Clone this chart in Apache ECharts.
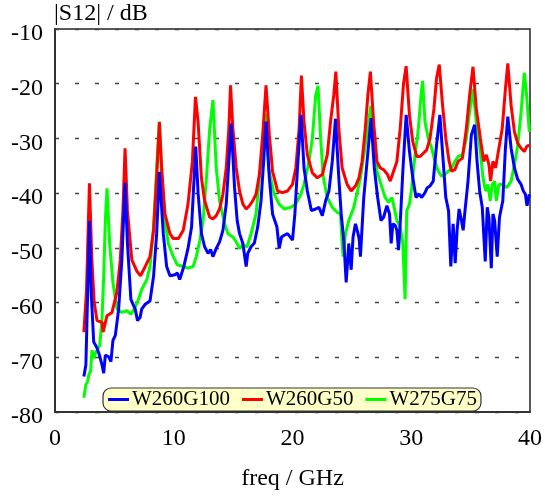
<!DOCTYPE html>
<html>
<head>
<meta charset="utf-8">
<script src="https://cdn.jsdelivr.net/npm/echarts@6/dist/echarts.min.js"></script>
<style>html,body{margin:0;padding:0;background:#fff}#c{width:545px;height:496px}</style>
</head>
<body>
<div id="c"></div>
<script>
const seriesNames = ['W260G100', 'W260G50', 'W275G75'];
const xTicks = [0, 10, 20, 30, 40];
const yTicks = [-80, -70, -60, -50, -40, -30, -20, -10];

const blueFreq = [2.43,2.6,2.9,3.05,3.26,3.5,3.7,3.96,4.1,4.24,4.52,4.71,4.88,5.08,5.36,5.63,5.9,6.1,6.39,6.75,6.95,7.17,7.3,7.6,8.0,8.3,8.56,8.79,9.12,9.4,9.68,10.1,10.3,10.5,10.85,11.2,11.5,11.85,12.05,12.33,12.6,12.89,13.1,13.3,13.58,13.86,14.14,14.42,14.64,14.84,15.12,15.34,15.54,15.82,16.1,16.23,16.51,16.79,17.07,17.35,17.57,17.77,18.05,18.32,18.69,18.88,19.08,19.3,19.58,19.8,20.0,20.2,20.42,20.72,20.97,21.25,21.59,21.95,22.23,22.51,22.79,23.07,23.35,23.62,23.9,24.1,24.32,24.52,24.74,24.94,25.1,25.3,25.52,25.62,25.72,25.86,26.0,26.28,26.61,26.89,27.17,27.45,27.67,27.95,28.17,28.31,28.45,28.65,28.79,28.93,29.07,29.29,29.57,29.85,30.13,30.4,30.68,30.88,31.16,31.35,31.58,31.85,32.13,32.41,32.69,32.91,33.14,33.33,33.53,33.7,33.86,34.03,34.23,34.37,34.5,34.78,35.06,35.34,35.54,35.76,35.98,36.23,36.4,36.54,36.74,36.88,37.02,37.24,37.43,37.71,37.93,38.13,38.41,38.69,38.97,39.25,39.44,39.61,39.75,39.94];
const blueDb = [-73.5,-71.4,-45.1,-58.2,-67.2,-68.1,-69.3,-71.4,-72.9,-69.6,-69.9,-70.8,-66.9,-66.0,-61.2,-52.2,-38.1,-49.2,-59.4,-61.2,-63.3,-62.7,-61.2,-60.3,-59.7,-55.2,-47.4,-36.1,-47.4,-53.4,-55.1,-54.9,-54.6,-55.8,-53.4,-50.1,-46.2,-31.5,-40.0,-47.4,-49.8,-51.0,-50.3,-51.6,-50.1,-48.9,-46.8,-42.0,-34.2,-27.3,-39.0,-45.0,-47.4,-49.2,-53.4,-51.0,-49.8,-49.1,-46.2,-41.4,-34.2,-26.9,-37.2,-43.8,-46.2,-50.1,-48.0,-47.7,-47.4,-48.0,-48.6,-43.8,-35.4,-25.7,-35.4,-39.6,-43.2,-42.9,-42.6,-44.1,-41.4,-39.6,-34.2,-26.4,-37.2,-43.8,-48.6,-56.3,-49.2,-54.0,-48.0,-45.6,-47.4,-48.5,-51.6,-46.2,-40.8,-34.2,-26.3,-35.4,-40.8,-45.0,-44.4,-42.3,-43.8,-49.2,-45.6,-45.9,-46.8,-50.4,-45.6,-36.0,-25.7,-32.4,-37.2,-40.8,-40.2,-40.8,-39.9,-39.0,-38.7,-37.8,-31.2,-25.7,-34.2,-40.8,-43.2,-53.4,-45.6,-52.8,-46.8,-42.9,-45.0,-46.8,-43.8,-37.8,-29.4,-27.5,-34.2,-39.6,-42.6,-52.5,-42.6,-44.4,-53.7,-43.8,-45.0,-51.6,-44.4,-41.4,-31.8,-26.0,-31.8,-35.4,-37.5,-38.4,-39.6,-40.2,-42.3,-40.2];

const redFreq = [2.43,2.65,2.9,3.1,3.3,3.54,3.96,4.05,4.38,4.8,5.2,5.5,5.72,5.9,6.1,6.47,6.9,7.2,7.6,8.0,8.3,8.56,8.79,8.98,9.26,9.68,9.96,10.4,10.8,11.2,11.57,11.83,12.05,12.33,12.6,13.03,13.3,13.58,13.86,14.14,14.42,14.64,14.78,14.98,15.26,15.54,15.82,16.1,16.37,16.65,16.93,17.21,17.49,17.77,18.05,18.32,18.74,19.16,19.58,20.0,20.28,20.56,20.75,20.97,21.25,21.67,22.09,22.51,22.93,23.2,23.48,23.65,23.9,24.18,24.6,24.94,25.3,25.6,25.86,26.13,26.35,26.56,26.83,27.11,27.39,27.67,28.0,28.23,28.51,28.79,29.07,29.35,29.57,29.85,30.13,30.46,30.74,31.02,31.3,31.58,31.91,32.13,32.36,32.64,32.91,33.19,33.39,33.67,33.95,34.31,34.64,34.92,35.2,35.48,35.82,36.1,36.32,36.54,36.68,36.88,37.1,37.38,37.66,37.93,38.13,38.41,38.69,38.97,39.25,39.52,39.72,39.94];
const redDb = [-65.4,-58.0,-38.2,-52.0,-60.0,-63.3,-63.6,-65.4,-62.4,-61.8,-58.2,-52.2,-43.2,-31.8,-43.2,-52.2,-54.3,-55.1,-53.4,-51.6,-46.8,-37.2,-27.0,-35.4,-43.8,-47.4,-48.3,-48.3,-46.8,-42.0,-34.2,-22.4,-27.0,-37.2,-41.4,-44.4,-44.7,-44.1,-42.9,-40.2,-35.4,-28.2,-20.3,-28.2,-35.4,-39.6,-42.0,-42.9,-42.3,-41.4,-40.2,-36.6,-29.4,-20.3,-29.4,-36.0,-39.6,-39.9,-39.6,-38.4,-35.4,-28.2,-18.5,-27.0,-33.0,-36.3,-37.2,-36.6,-33.0,-27.0,-22.0,-17.8,-28.2,-35.4,-38.4,-39.6,-38.7,-37.2,-34.2,-28.2,-22.0,-17.8,-27.0,-34.2,-35.4,-35.7,-36.6,-37.8,-36.0,-34.2,-28.2,-20.0,-16.8,-25.8,-30.6,-33.3,-33.3,-32.7,-32.1,-30.0,-24.6,-19.0,-16.5,-24.0,-30.0,-34.2,-36.0,-35.7,-34.2,-33.6,-28.2,-22.0,-16.9,-24.6,-30.0,-34.2,-33.0,-34.8,-37.8,-34.2,-35.4,-31.8,-28.2,-21.0,-16.3,-24.0,-28.8,-30.9,-31.8,-32.4,-31.5,-31.2];

const greenFreq = [2.43,2.6,2.75,2.85,3.0,3.12,3.26,3.4,3.54,3.77,3.96,4.1,4.24,4.38,4.6,4.88,5.22,5.63,6.05,6.39,6.75,7.03,7.3,7.73,8.0,8.3,8.56,8.79,8.98,9.26,9.54,9.96,10.3,10.8,11.2,11.63,11.9,12.2,12.47,12.75,13.03,13.3,13.58,13.86,14.28,14.56,14.98,15.26,15.54,15.82,16.18,16.51,16.93,17.21,17.5,17.72,17.98,18.46,18.88,19.3,19.86,20.28,20.7,20.97,21.39,21.67,21.95,22.15,22.37,22.6,22.93,23.35,23.76,24.04,24.26,24.46,24.74,25.16,25.72,26.13,26.4,26.6,26.85,27.11,27.45,27.81,28.09,28.37,28.56,28.79,29.07,29.29,29.48,29.62,29.85,30.04,30.32,30.6,30.82,30.96,31.16,31.44,31.72,32.0,32.27,32.55,32.83,33.11,33.39,33.67,33.95,34.31,34.64,34.92,35.2,35.48,35.82,36.04,36.26,36.46,36.65,36.82,37.02,37.16,37.38,37.71,38.05,38.41,38.69,38.97,39.25,39.52,39.72,39.94];
const greenDb = [-77.4,-75.0,-74.4,-73.2,-72.5,-68.7,-70.2,-69.3,-69.6,-67.8,-63.0,-55.2,-45.0,-39.1,-49.2,-56.4,-61.2,-61.8,-61.5,-62.1,-60.9,-59.4,-57.6,-55.8,-53.4,-46.2,-35.4,-26.9,-36.6,-45.0,-49.2,-51.6,-53.1,-53.4,-53.7,-53.4,-51.6,-48.6,-45.0,-37.2,-28.2,-23.0,-35.4,-41.4,-45.6,-47.4,-48.0,-48.9,-50.1,-49.5,-49.8,-47.4,-43.8,-37.2,-31.8,-25.5,-35.4,-40.2,-42.0,-42.9,-42.6,-42.0,-40.2,-38.4,-34.2,-30.0,-22.2,-20.4,-30.0,-37.2,-40.8,-42.6,-43.5,-43.8,-51.6,-47.4,-45.0,-42.6,-37.2,-31.2,-27.0,-24.0,-30.0,-36.0,-38.4,-40.8,-41.7,-40.8,-42.6,-45.0,-46.2,-49.2,-59.4,-43.2,-42.0,-39.0,-33.0,-28.2,-22.2,-19.5,-27.0,-30.0,-31.8,-34.2,-36.0,-36.9,-36.6,-36.0,-35.4,-34.2,-33.3,-33.0,-30.0,-25.0,-21.0,-27.0,-32.4,-37.2,-39.6,-38.4,-41.4,-38.4,-37.8,-41.4,-38.4,-38.4,-39.0,-37.8,-34.8,-31.2,-25.2,-18.0,-22.2,-28.8];

const zip = (xs, ys) => xs.map((x, i) => [x, ys[i]]);
const serif = '"Liberation Serif", "Times New Roman", serif';

const chart = echarts.init(document.getElementById('c'), null, {renderer: 'canvas'});
chart.setOption({
  animation: false,
  backgroundColor: '#fff',
  title: {
    text: '|S12| / dB', left: 54, top: 2, padding: 0,
    textStyle: {fontFamily: serif, fontSize: 24, fontWeight: 'normal', color: '#000'}
  },
  grid: {left: 55, right: 11, top: 29, bottom: 78, show: true, borderColor: '#222', borderWidth: 1.5, containLabel: false},
  legend: {
    data: seriesNames, left: 103, top: 388, z: 10,
    backgroundColor: '#ffffc8', borderColor: '#333', borderWidth: 1.2, borderRadius: 8,
    padding: [1, 4, 1, 5], itemGap: 12, itemWidth: 21, itemHeight: 3, icon: 'rect',
    textStyle: {fontFamily: serif, fontSize: 21, color: '#000', padding: [0, 0, 0, -2]}
  },
  xAxis: {
    type: 'value', min: xTicks[0], max: xTicks[xTicks.length - 1], interval: 10,
    name: 'freq / GHz', nameLocation: 'middle', nameGap: 55,
    nameTextStyle: {fontFamily: serif, fontSize: 24, color: '#000'},
    axisLine: {show: true, lineStyle: {color: '#333', width: 2}},
    axisTick: {show: false},
    axisLabel: {fontFamily: serif, fontSize: 24, lineHeight: 24, color: '#000', margin: 15,
      formatter: v => xTicks.includes(v) ? String(v) : ''},
    splitLine: {show: false}
  },
  yAxis: {
    type: 'value', min: yTicks[0], max: yTicks[yTicks.length - 1], interval: 10,
    axisLine: {show: true, lineStyle: {color: '#333', width: 2}},
    axisTick: {show: false},
    axisLabel: {fontFamily: serif, fontSize: 24, color: '#000', margin: 12,
      verticalAlign: 'top', lineHeight: 10,
      formatter: v => yTicks.includes(v) ? String(v) : ''},
    splitLine: {show: true, lineStyle: {color: '#444', width: 1.3, type: [4, 16], dashOffset: 0}}
  },
  series: [
    {name: seriesNames[0], type: 'line', data: zip(blueFreq, blueDb), symbol: 'none', z: 5,
      lineStyle: {color: '#0000ff', width: 3}, itemStyle: {color: '#0000ff'}},
    {name: seriesNames[1], type: 'line', data: zip(redFreq, redDb), symbol: 'none', z: 4,
      lineStyle: {color: '#ff0000', width: 3}, itemStyle: {color: '#ff0000'}},
    {name: seriesNames[2], type: 'line', data: zip(greenFreq, greenDb), symbol: 'none', z: 3,
      lineStyle: {color: '#00ff00', width: 3}, itemStyle: {color: '#00ff00'}}
  ]
});
</script>
</body>
</html>
